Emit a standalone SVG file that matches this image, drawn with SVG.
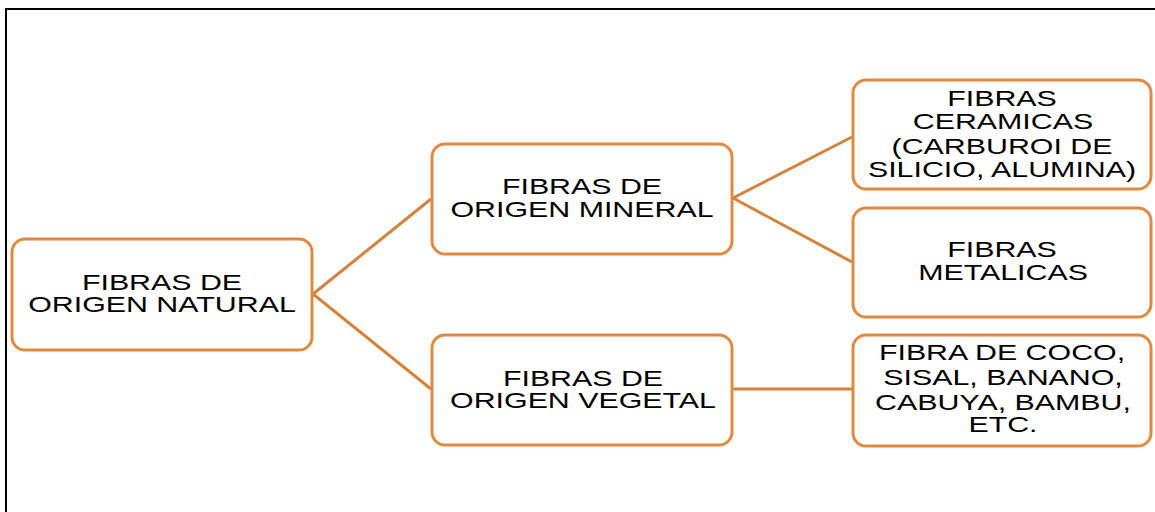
<svg xmlns="http://www.w3.org/2000/svg" width="1155" height="512" viewBox="0 0 1155 512">
<style>
.box{fill:#fff;stroke:#E0893F;stroke-width:3}
.con{stroke:#D4823C;stroke-width:3;fill:none}
.t{font-family:"Liberation Sans",Arial,sans-serif;font-size:22px;fill:#000;text-anchor:middle}
</style>
<rect x="0" y="0" width="1155" height="512" fill="#fff"/>
<path d="M6 512 V9 H1155" fill="none" stroke="#000" stroke-width="2"/>
<g id="connectors">
<line class="con" x1="313" y1="294" x2="431" y2="199"/>
<line class="con" x1="313" y1="294" x2="431" y2="389"/>
<line class="con" x1="733" y1="198" x2="852" y2="137"/>
<line class="con" x1="733" y1="198" x2="852" y2="262"/>
<line class="con" x1="733" y1="389" x2="852" y2="389"/>
</g>
<g id="n-natural">
<rect class="box" x="12" y="239" width="300" height="111" rx="13"/>
<text class="t" transform="translate(162,290) scale(1.38,1)">FIBRAS DE</text>
<text class="t" transform="translate(162,312) scale(1.38,1)">ORIGEN NATURAL</text>
</g>
<g id="n-mineral">
<rect class="box" x="432" y="144" width="300" height="110" rx="13"/>
<text class="t" transform="translate(582,194) scale(1.38,1)">FIBRAS DE</text>
<text class="t" transform="translate(582,217) scale(1.38,1)">ORIGEN MINERAL</text>
</g>
<g id="n-vegetal">
<rect class="box" x="432" y="335" width="300" height="110" rx="13"/>
<text class="t" transform="translate(583,386) scale(1.38,1)">FIBRAS DE</text>
<text class="t" transform="translate(583,408) scale(1.38,1)">ORIGEN VEGETAL</text>
</g>
<g id="n-ceramicas">
<rect class="box" x="853" y="80" width="298" height="109" rx="13"/>
<text class="t" transform="translate(1002,106) scale(1.38,1)">FIBRAS</text>
<text class="t" transform="translate(1003,129) scale(1.38,1)">CERAMICAS</text>
<text class="t" transform="translate(1002,154) scale(1.38,1)">(CARBUROI DE</text>
<text class="t" transform="translate(1002,177) scale(1.38,1)">SILICIO, ALUMINA)</text>
</g>
<g id="n-metalicas">
<rect class="box" x="853" y="208" width="298" height="109" rx="13"/>
<text class="t" transform="translate(1002,257) scale(1.38,1)">FIBRAS</text>
<text class="t" transform="translate(1003,280) scale(1.38,1)">METALICAS</text>
</g>
<g id="n-coco">
<rect class="box" x="853" y="335" width="298" height="111" rx="13"/>
<text class="t" transform="translate(1002,360) scale(1.38,1)">FIBRA DE COCO,</text>
<text class="t" transform="translate(1003,385) scale(1.38,1)">SISAL, BANANO,</text>
<text class="t" transform="translate(1003,410) scale(1.38,1)">CABUYA, BAMBU,</text>
<text class="t" transform="translate(1003,432) scale(1.38,1)">ETC.</text>
</g>
</svg>
